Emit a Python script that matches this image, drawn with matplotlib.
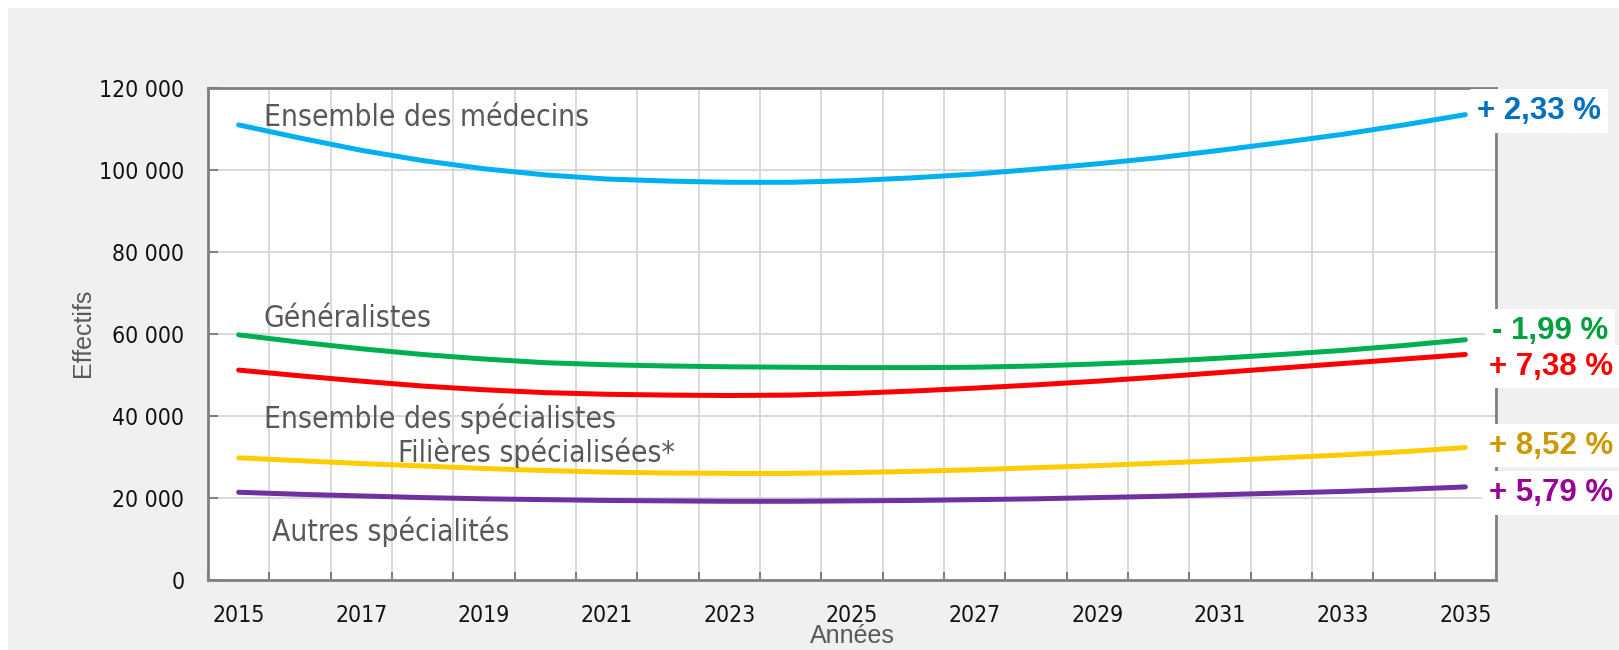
import matplotlib
matplotlib.use('Agg')
import matplotlib.pyplot as plt
from matplotlib.patches import Rectangle
from matplotlib.ticker import FuncFormatter
from matplotlib import font_manager as fm
import numpy as np

years = list(range(2015, 2036))
medecins = [111000, 107800, 104800, 102300, 100300, 98800, 97800, 97300, 97000, 97000,
            97400, 98100, 99000, 100200, 101500, 103000, 104800, 106700, 108700, 111000, 113500]
generalistes = [59800, 58000, 56400, 55000, 53900, 53000, 52500, 52200, 52000, 51900,
                51800, 51800, 51900, 52200, 52700, 53300, 54100, 55000, 56000, 57200, 58600]
specialistes = [51200, 49800, 48500, 47300, 46400, 45700, 45300, 45100, 45000, 45100,
                45500, 46100, 46800, 47600, 48500, 49500, 50600, 51700, 52800, 53900, 55000]
filieres = [29800, 29100, 28400, 27800, 27200, 26700, 26300, 26100, 26000, 26000,
            26200, 26500, 26900, 27400, 27900, 28500, 29100, 29800, 30500, 31300, 32300]
autres = [21400, 20900, 20500, 20100, 19800, 19600, 19400, 19300, 19200, 19200,
          19300, 19400, 19600, 19800, 20100, 20400, 20800, 21200, 21600, 22100, 22700]

series = [medecins, generalistes, specialistes, filieres, autres]
line_colors = ['#00b0f0', '#00b050', '#ff0000', '#ffcc00', '#7030a0']
pct_labels = ['+ 2,33 %', '- 1,99 %', '+ 7,38 %', '+ 8,52 %', '+ 5,79 %']
pct_colors = ['#0070c0', '#00a03c', '#ff0000', '#cc9900', '#990099']
pct_offsets = [(12, 4), (27, 9), (24, -12), (24, 2), (24, -6)]

names = ['Ensemble des médecins', 'Généralistes', 'Ensemble des spécialistes',
         'Filières spécialisées*', 'Autres spécialités']
name_pos = [(0.41, 110700), (0.41, 61700), (0.41, 37070), (2.6, 28780), (0.54, 9510)]

# narrow font for ticks and series names, Arial-like for the rest
narrow_file = None
regular_file = None
bold_file = None
for f in fm.findSystemFonts():
    low = f.lower()
    if 'liberationsansnarrow-regular' in low:
        narrow_file = f
    elif 'liberationsans-regular' in low:
        regular_file = f
    elif 'liberationsans-bold.' in low:
        bold_file = f

if narrow_file:
    narrow = fm.FontProperties(fname=narrow_file)
    tick_size, name_size = 18.5, 24.5
else:
    narrow = fm.FontProperties(family='DejaVu Sans', stretch='condensed')
    tick_size, name_size = 16.5, 21.5
regular = fm.FontProperties(fname=regular_file) if regular_file else fm.FontProperties(family='DejaVu Sans')
bold = fm.FontProperties(fname=bold_file) if bold_file else fm.FontProperties(family='DejaVu Sans', weight='bold')

fig = plt.figure(figsize=(16.19, 6.5), dpi=100)
fig.patch.set_facecolor('white')
fig.add_artist(Rectangle((8 / 1619, 0), 1, 1 - 8 / 650, transform=fig.transFigure,
                         facecolor='#f0f0f0', edgecolor='none', zorder=-10))

ax = fig.add_axes([208 / 1619, 1 - 580 / 650, 1288 / 1619, 492 / 650])
ax.set_facecolor('white')

x = np.arange(len(years))
for vals, c in zip(series, line_colors):
    ax.plot(x, vals, color=c, lw=3.6, solid_capstyle='round', zorder=4)

ax.set_xlim(-0.5, len(years) - 0.5)
ax.set_ylim(0, 120000)

# grid on category boundaries, labels every two years
ax.set_xticks(np.arange(-0.5, len(years), 1))
ax.set_xticklabels([])
ax.set_xticks(x[::2], minor=True)
ax.set_xticklabels([str(y) for y in years[::2]], minor=True)
ax.tick_params(axis='x', which='major', direction='in', length=6, width=1.5, color='#808080')
ax.tick_params(axis='x', which='minor', length=0, pad=17)

ax.set_yticks(np.arange(0, 120001, 20000))
ax.yaxis.set_major_formatter(FuncFormatter(lambda v, p: f'{int(v):,}'.replace(',', ' ')))
ax.tick_params(axis='y', direction='in', length=7, width=1.5, color='#808080', pad=17)
for lab in ax.get_yticklabels() + ax.get_xticklabels(minor=True):
    lab.set_fontproperties(narrow)
    lab.set_fontsize(tick_size)
    lab.set_color('#111111')

ax.grid(True, which='major', color='#d0d0d0', lw=1.1, zorder=0)
ax.set_axisbelow(True)
for s in ax.spines.values():
    s.set_color('#808080')
    s.set_linewidth(2)

for (nx, ny), name in zip(name_pos, names):
    t = ax.text(nx, ny, name, color='#595959', ha='left', va='baseline', zorder=5)
    t.set_fontproperties(narrow)
    t.set_fontsize(name_size)

for vals, lab, c, off in zip(series, pct_labels, pct_colors, pct_offsets):
    t = ax.annotate(lab, xy=(x[-1], vals[-1]), xytext=off, textcoords='offset pixels',
                    ha='left', va='center', color=c, annotation_clip=False, zorder=6,
                    bbox=dict(boxstyle='square,pad=0.22', facecolor='white', edgecolor='none'))
    t.set_fontproperties(bold)
    t.set_fontsize(22.5)

t = fig.text(83 / 1619, 1 - 333 / 650, 'Effectifs', rotation=90, ha='center', va='center',
             color='#595959')
t.set_fontproperties(regular)
t.set_fontsize(18)
t = fig.text(852 / 1619, 1 - 636 / 650, 'Années', ha='center', va='center', color='#595959')
t.set_fontproperties(regular)
t.set_fontsize(18)

fig.savefig('out.png', dpi=100)
